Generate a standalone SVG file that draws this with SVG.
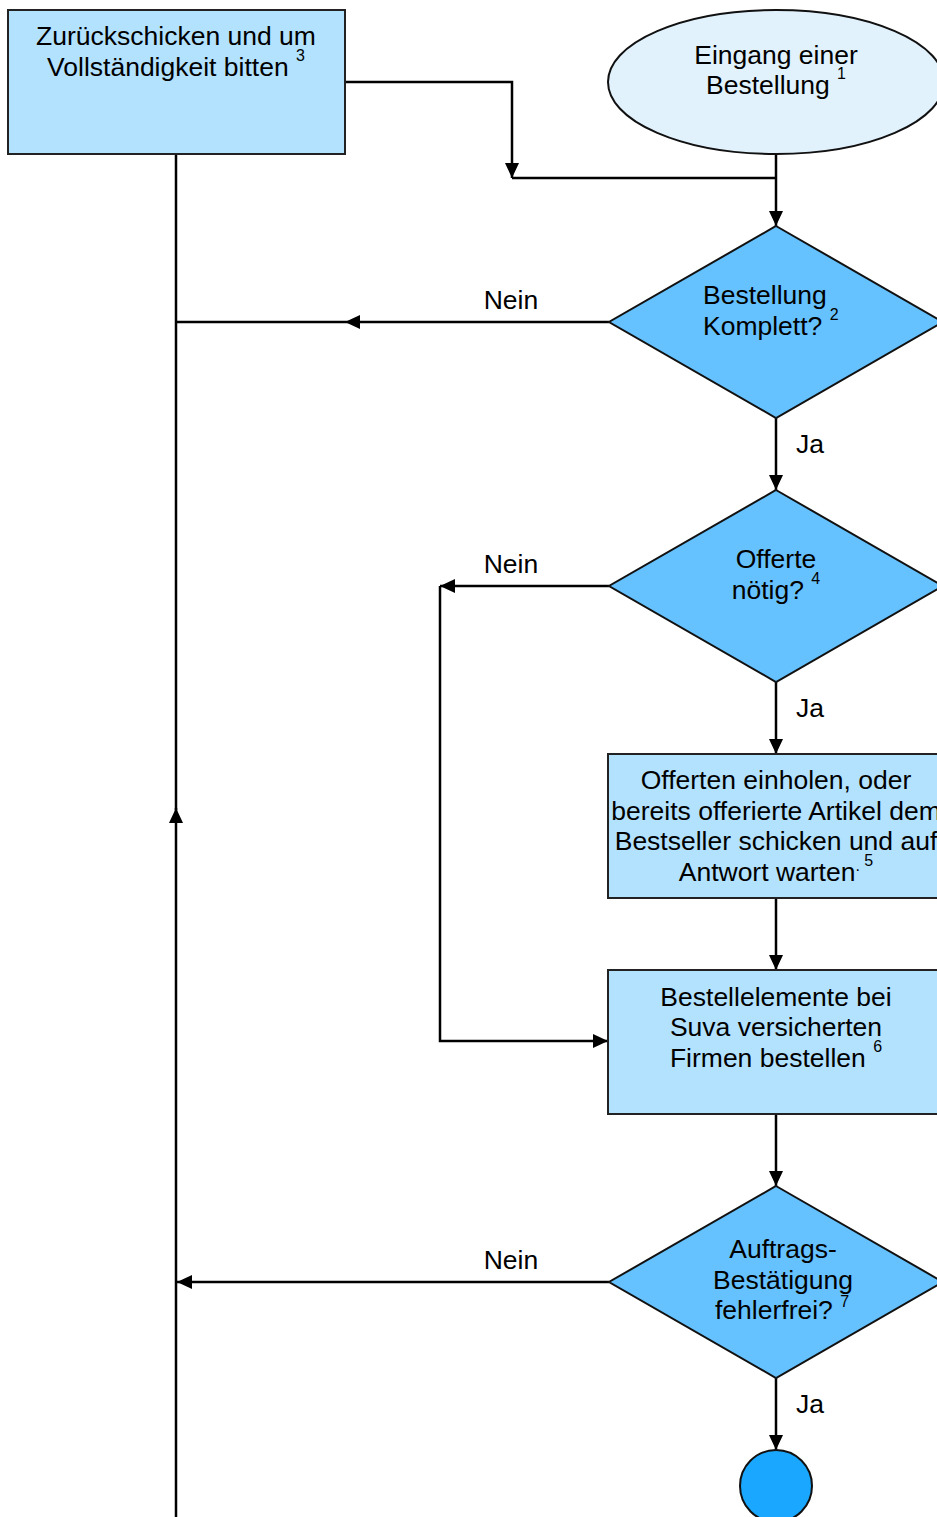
<svg xmlns="http://www.w3.org/2000/svg" width="937" height="1517" viewBox="0 0 937 1517">
<style>
.t{font-family:"Liberation Sans",Arial,sans-serif;font-size:26.5px;fill:#000}
.s{font-size:16px}
.box{fill:#b3e2ff;stroke:#222;stroke-width:2}
.dia{fill:#66c2ff;stroke:#111;stroke-width:2}
.c{fill:none;stroke:#000;stroke-width:2.5}
</style>
<defs>
<marker id="ah" markerUnits="userSpaceOnUse" markerWidth="16" markerHeight="14" refX="15" refY="7" orient="auto">
<path d="M0,0 L15,7 L0,14 z" fill="#000"/>
</marker>
</defs>
<rect width="937" height="1517" fill="#fff"/>
<g id="connectors">
<path class="c" d="M345,82 H512 V178" marker-end="url(#ah)"/>
<path class="c" d="M512,178 H776"/>
<path class="c" d="M776,154 V226" marker-end="url(#ah)"/>
<path class="c" d="M609,322 H345" marker-end="url(#ah)"/>
<path class="c" d="M345,322 H176"/>
<path class="c" d="M176,154 V810"/>
<path class="c" d="M176,1517 V808" marker-end="url(#ah)"/>
<path class="c" d="M776,418 V490" marker-end="url(#ah)"/>
<path class="c" d="M609,586 H440" marker-end="url(#ah)"/>
<path class="c" d="M440,586 V1041 H608" marker-end="url(#ah)"/>
<path class="c" d="M776,682 V754" marker-end="url(#ah)"/>
<path class="c" d="M776,898 V970" marker-end="url(#ah)"/>
<path class="c" d="M776,1114 V1186" marker-end="url(#ah)"/>
<path class="c" d="M609,1282 H177" marker-end="url(#ah)"/>
<path class="c" d="M776,1378 V1450" marker-end="url(#ah)"/>
<text class="t" x="511" y="309" text-anchor="middle">Nein</text>
<text class="t" x="511" y="573" text-anchor="middle">Nein</text>
<text class="t" x="511" y="1269" text-anchor="middle">Nein</text>
<text class="t" x="796" y="453">Ja</text>
<text class="t" x="796" y="717">Ja</text>
<text class="t" x="796" y="1413">Ja</text>
</g>
<g id="n3">
<rect class="box" x="8" y="10" width="337" height="144"/>
<text class="t" x="176" y="45" text-anchor="middle">Zurückschicken und um</text>
<text class="t" x="176" y="76" text-anchor="middle">Vollständigkeit bitten <tspan class="s" dy="-15">3</tspan></text>
</g>
<g id="n1">
<ellipse cx="776" cy="82" rx="168" ry="72" fill="#e1f2fd" stroke="#111" stroke-width="2"/>
<text class="t" x="776" y="64" text-anchor="middle">Eingang einer</text>
<text class="t" x="776" y="94" text-anchor="middle">Bestellung <tspan class="s" dy="-15">1</tspan></text>
</g>
<g id="n2">
<polygon class="dia" points="776,226 943,322 776,418 609,322"/>
<text class="t" x="703" y="304">Bestellung</text>
<text class="t" x="703" y="335">Komplett? <tspan class="s" dy="-15">2</tspan></text>
</g>
<g id="n4">
<polygon class="dia" points="776,490 943,586 776,682 609,586"/>
<text class="t" x="776" y="568" text-anchor="middle">Offerte</text>
<text class="t" x="776" y="599" text-anchor="middle">nötig? <tspan class="s" dy="-15">4</tspan></text>
</g>
<g id="n5">
<rect class="box" x="608" y="754" width="337" height="144"/>
<text class="t" x="776" y="789" text-anchor="middle">Offerten einholen, oder</text>
<text class="t" x="776" y="820" text-anchor="middle">bereits offerierte Artikel dem</text>
<text class="t" x="776" y="850" text-anchor="middle">Bestseller schicken und auf</text>
<text class="t" x="776" y="881" text-anchor="middle">Antwort warten<tspan class="s" dy="-10">.</tspan><tspan class="s" dy="-5"> 5</tspan></text>
</g>
<g id="n6">
<rect class="box" x="608" y="970" width="337" height="144"/>
<text class="t" x="776" y="1006" text-anchor="middle">Bestellelemente bei</text>
<text class="t" x="776" y="1036" text-anchor="middle">Suva versicherten</text>
<text class="t" x="776" y="1067" text-anchor="middle">Firmen bestellen <tspan class="s" dy="-15">6</tspan></text>
</g>
<g id="n7">
<polygon class="dia" points="776,1186 943,1282 776,1378 609,1282"/>
<text class="t" x="783" y="1258" text-anchor="middle">Auftrags-</text>
<text class="t" x="783" y="1289" text-anchor="middle">Bestätigung</text>
<text class="t" x="715" y="1319">fehlerfrei? <tspan class="s" dy="-12">7</tspan></text>
</g>
<g id="n8">
<circle cx="776" cy="1486" r="36" fill="#1aa7ff" stroke="#111" stroke-width="2"/>
</g>
</svg>
